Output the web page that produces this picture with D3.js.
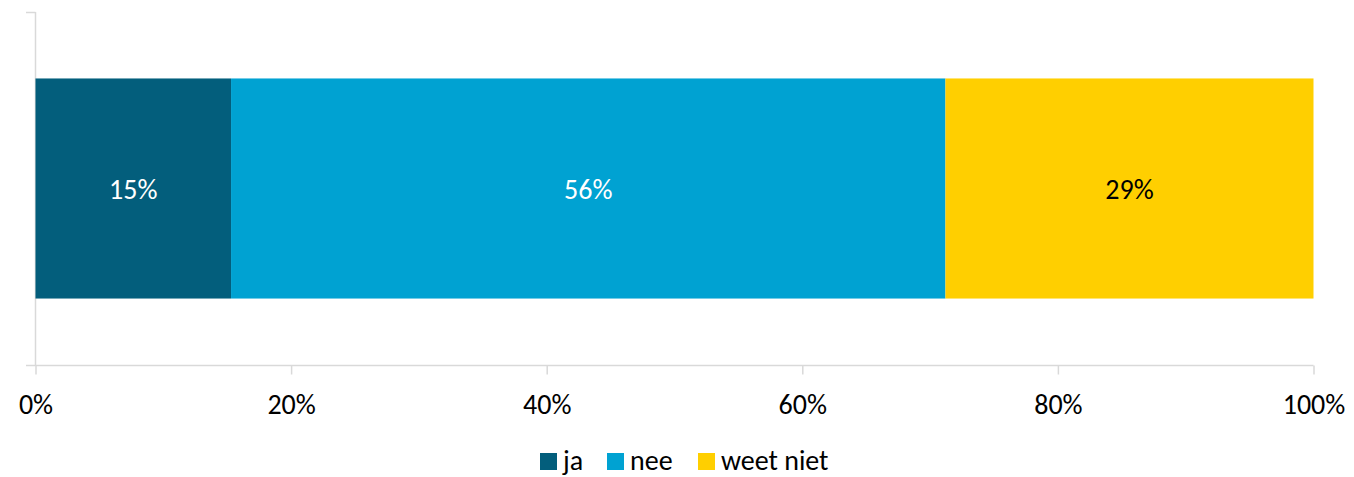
<!DOCTYPE html>
<html><head><meta charset="utf-8">
<script src="https://cdn.jsdelivr.net/npm/d3@7"></script>
<style>body{margin:0;background:#fff;}svg{display:block;}svg text{font-family:Carlito,Calibri,"Open Sans","Liberation Sans",sans-serif;}</style>
</head><body>
<svg id="c" width="1354" height="477"></svg>
<script>
const series = ["ja", "nee", "weet niet"];
const values = [15.3, 55.9, 28.8];
const labels = ["15%", "56%", "29%"];
const colors = ["#035E7C", "#00A2D2", "#FFCF00"];
const labelColors = ["#ffffff", "#ffffff", "#000000"];
const ticks = [0, 20, 40, 60, 80, 100];

const svg = d3.select("#c");
const x = d3.scaleLinear().domain([0, 100]).range([35.5, 1313.5]);
const y = d3.scaleBand().domain(["q"]).range([12, 365]).paddingInner(0).paddingOuter(0.302);

let acc = 0;
const segs = values.map((v, i) => { const s = {name: series[i], x0: acc, x1: acc + v, label: labels[i], c: colors[i], lc: labelColors[i]}; acc += v; return s; });

const fs = 28;
// axes
const axisColor = "#D9D9D9";
const gx = svg.append("g").attr("transform", "translate(0,365.5)")
  .call(d3.axisBottom(x).tickValues(ticks).tickFormat(d => d + "%").tickSize(9).tickSizeOuter(0));
gx.attr("font-family", null).attr("font-size", null);
gx.select(".domain").remove();
gx.selectAll(".tick line").attr("stroke", axisColor).attr("stroke-width", 1.5);
gx.selectAll(".tick text").attr("fill", "#000").attr("font-size", fs).attr("dy", 0).attr("y", 48.5);
svg.append("line").attr("x1", 26).attr("x2", 1313.5).attr("y1", 365.5).attr("y2", 365.5).attr("stroke", axisColor).attr("stroke-width", 1.5);
svg.append("line").attr("x1", 35.5).attr("x2", 35.5).attr("y1", 12).attr("y2", 365.5).attr("stroke", axisColor).attr("stroke-width", 1.5);
svg.append("line").attr("x1", 26).attr("x2", 35.5).attr("y1", 12.5).attr("y2", 12.5).attr("stroke", axisColor).attr("stroke-width", 1.5);

// bars
svg.selectAll("rect.bar").data(segs).enter().append("rect")
  .attr("x", d => x(d.x0)).attr("width", d => x(d.x1) - x(d.x0))
  .attr("y", y("q")).attr("height", y.bandwidth()).attr("fill", d => d.c);
svg.selectAll("text.lbl").data(segs).enter().append("text")
  .attr("x", d => (x(d.x0) + x(d.x1)) / 2).attr("y", y("q") + y.bandwidth() / 2 + 10)
  .attr("text-anchor", "middle").attr("font-size", fs).attr("fill", d => d.lc).text(d => d.label);

// legend
const lg = svg.append("g");
const lx = [540, 607, 698];
series.forEach((s, i) => {
  lg.append("rect").attr("x", lx[i]).attr("y", 453).attr("width", 17).attr("height", 17).attr("fill", colors[i]);
  lg.append("text").attr("x", lx[i] + 23).attr("y", 469.5).attr("font-size", fs).attr("fill", "#000").text(s);
});
</script>
</body></html>
